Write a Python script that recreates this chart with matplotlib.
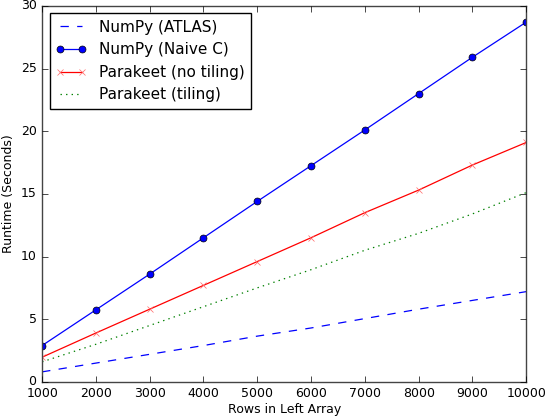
import matplotlib
matplotlib.use("Agg")
import matplotlib.pyplot as plt

rows = [1000, 2000, 3000, 4000, 5000, 6000, 7000, 8000, 9000, 10000]
numpy_atlas = [0.8, 1.5, 2.2, 2.9, 3.65, 4.3, 5.05, 5.8, 6.5, 7.2]
numpy_naive = [2.9, 5.75, 8.6, 11.5, 14.4, 17.25, 20.1, 23.0, 25.9, 28.7]
parakeet_notile = [1.97, 3.9, 5.8, 7.7, 9.6, 11.5, 13.5, 15.3, 17.3, 19.1]
parakeet_tile = [1.6, 3.0, 4.5, 6.0, 7.5, 8.95, 10.5, 11.85, 13.4, 15.1]

plt.style.use('classic')
fig = plt.figure(figsize=(5.47, 4.16), dpi=100)
ax = fig.add_axes([0.077, 0.082, 0.885, 0.904])
ax.plot(rows, numpy_atlas, 'b--', label='NumPy (ATLAS)', linewidth=0.9)
ax.plot(rows, numpy_naive, 'b-o', label='NumPy (Naive C)', markersize=5,
        linewidth=0.9)
ax.plot(rows, parakeet_notile, 'r-x', label='Parakeet (no tiling)',
        markersize=5, markeredgewidth=0.5, linewidth=0.9,
        markeredgecolor='#ff6666')
ax.plot(rows, parakeet_tile, 'g:', label='Parakeet (tiling)', linewidth=0.9)
ax.set_xlim(1000, 10000)
ax.set_ylim(0, 30)
ax.set_xlabel('Rows in Left Array', fontsize=9, labelpad=2)
ax.set_ylabel('Runtime (Seconds)', fontsize=9, labelpad=4)
ax.tick_params(labelsize=9)
for s in ax.spines.values():
    s.set_color('#444444')
ax.legend(loc='upper left', fontsize=11, numpoints=2)
fig.savefig('out.png', dpi=100)
